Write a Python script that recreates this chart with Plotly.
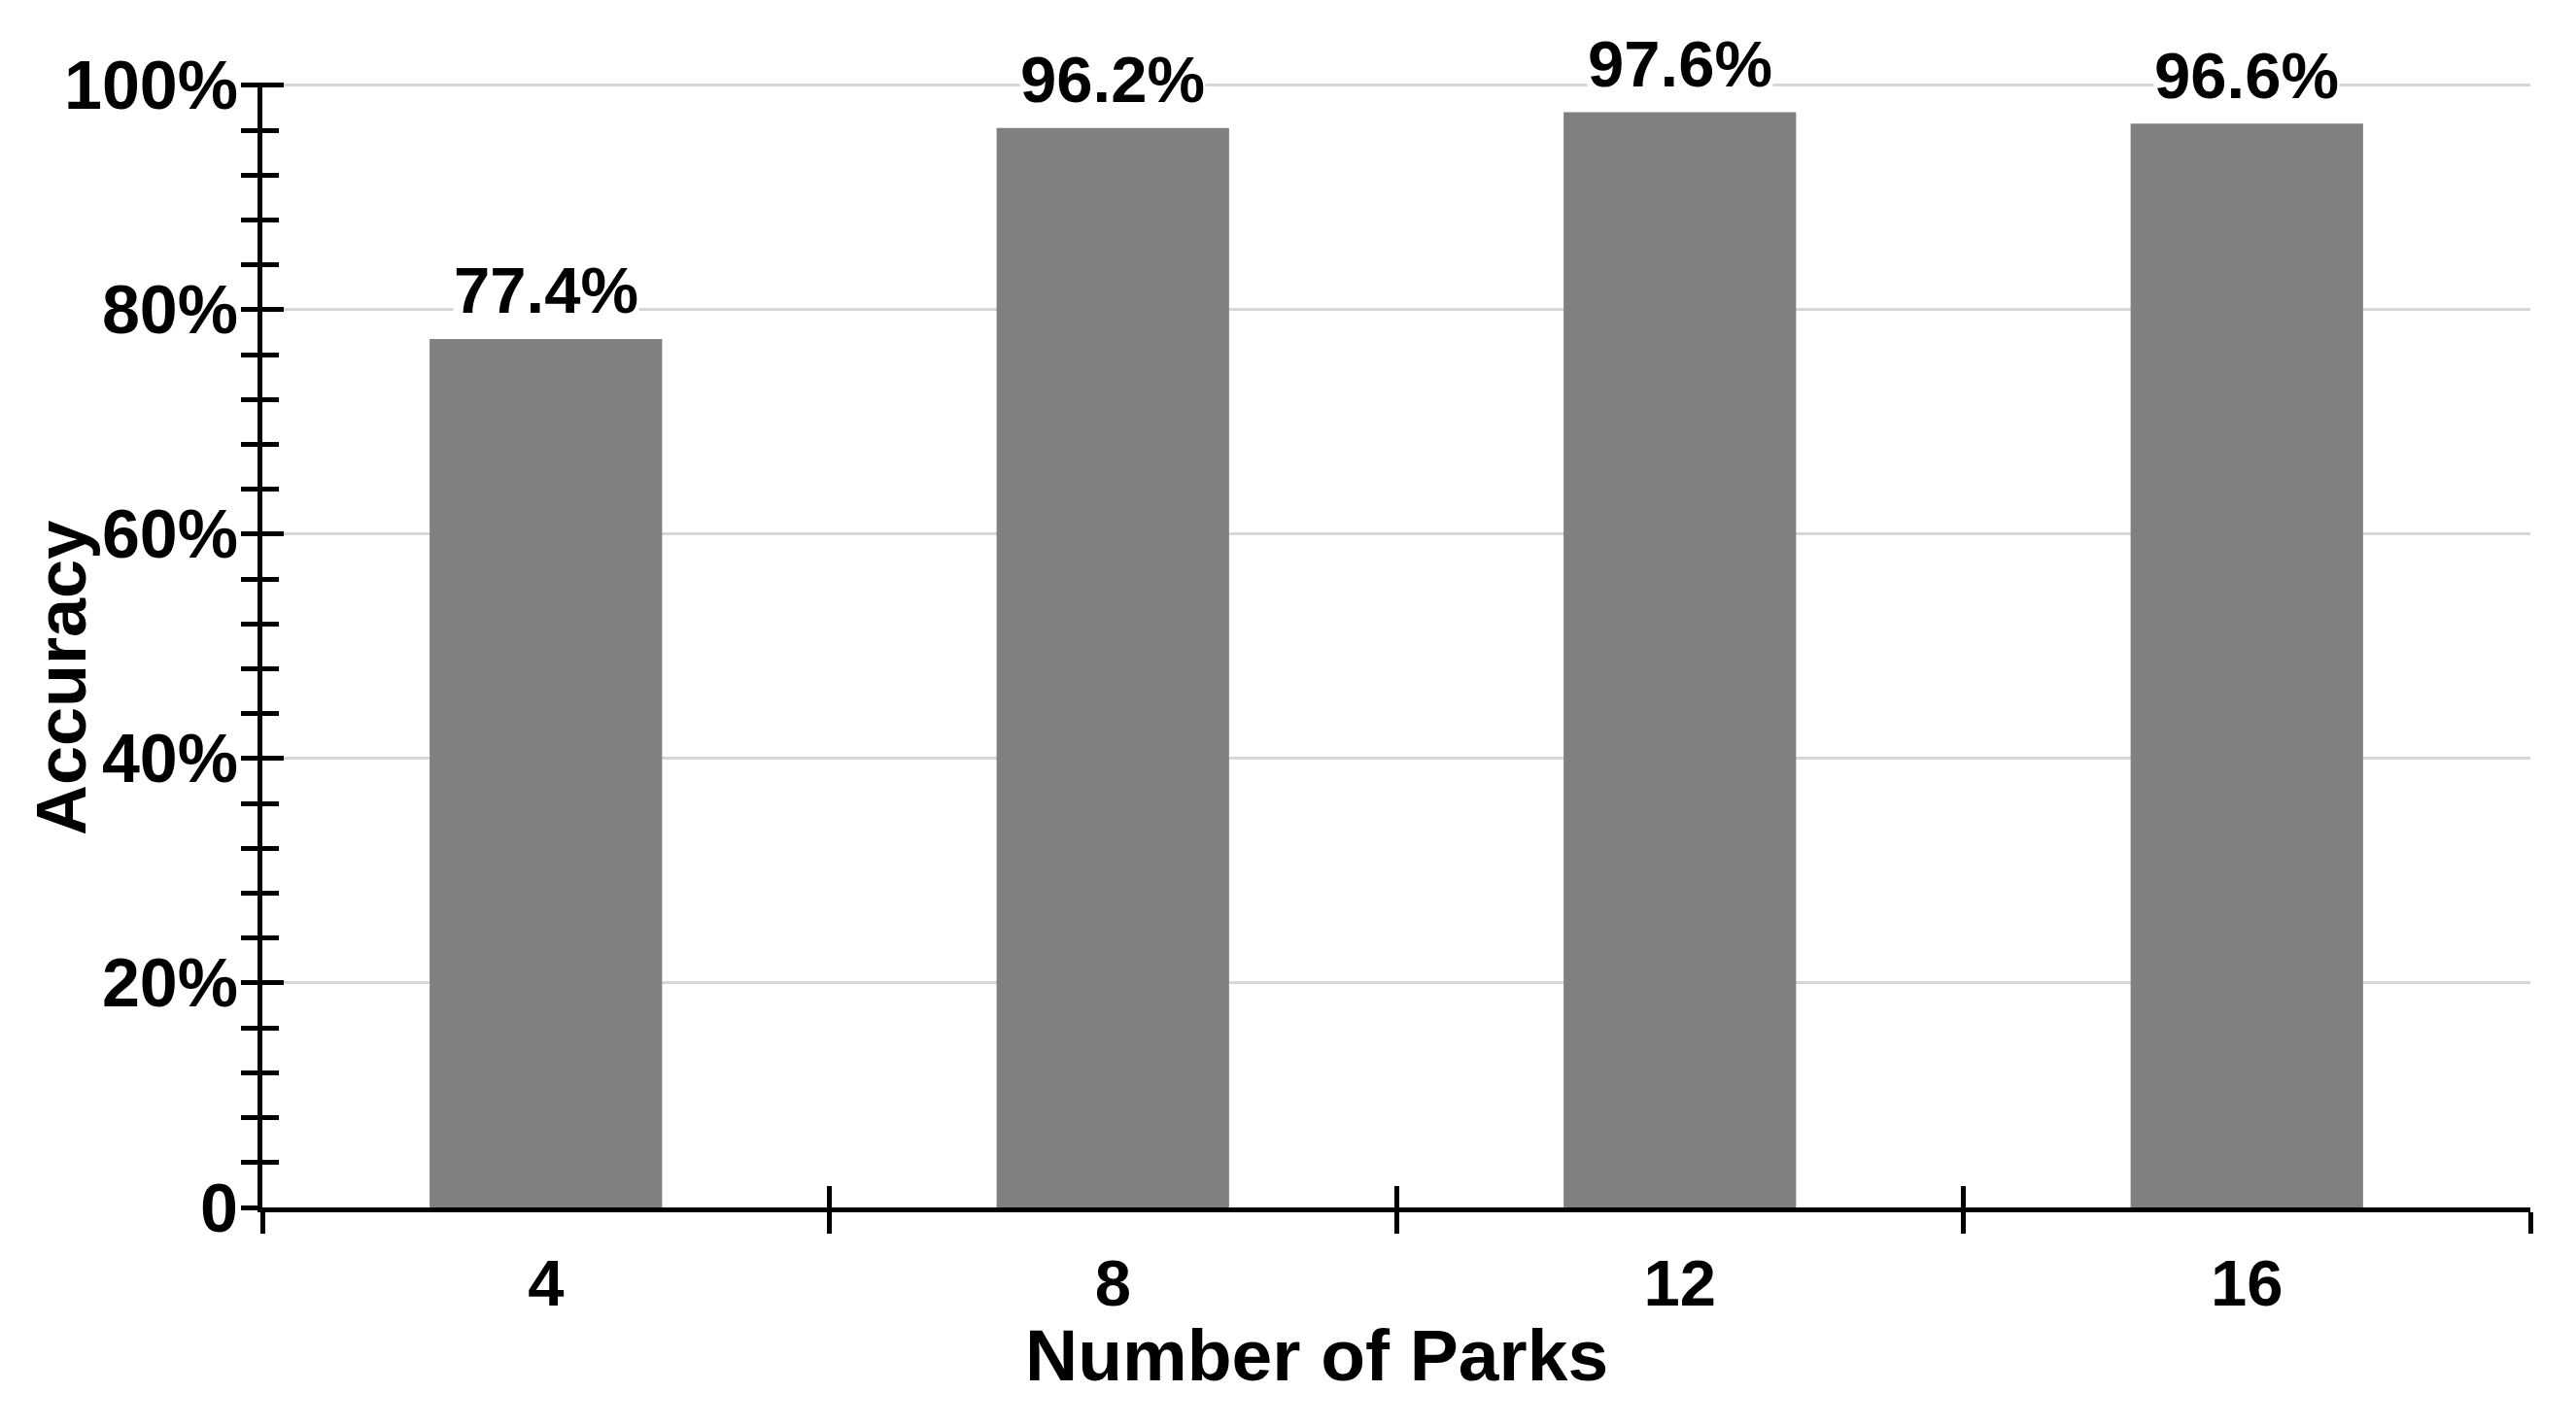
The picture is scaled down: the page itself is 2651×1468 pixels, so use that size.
import plotly.graph_objects as go

categories = ["4", "8", "12", "16"]
accuracy = [77.4, 96.2, 97.6, 96.6]
y_tickvals = [0, 20, 40, 60, 80, 100]
y_ticktext = ["0", "20%", "40%", "60%", "80%", "100%"]
x_title = "Number of Parks"
y_title = "Accuracy"

FONT = "Liberation Sans, Arial, sans-serif"
OFF = 8  # default body margin of the html page
W, H = 2651 - 2 * OFF, 1468 - 2 * OFF
# target plot area in page pixels
PX0, PX1, PY0, PY1 = 270, 2604, 85, 1243
ML, MT = PX0 - OFF, PY0 - OFF
MR, MB = W - (PX1 - OFF), H - (PY1 - OFF)

fig = go.Figure()
fig.add_trace(go.Bar(x=categories, y=accuracy, marker=dict(color="#808080", line=dict(width=0)),
                     width=0.41, xaxis="x", yaxis="y", hoverinfo="skip"))
# invisible trace to give the overlay axes the same categories
fig.add_trace(go.Bar(x=categories, y=accuracy, opacity=0, xaxis="x2", yaxis="y2",
                     width=0.41, hoverinfo="skip", showlegend=False))

for i, v in enumerate(accuracy):
    fig.add_annotation(x=i, y=v, xref="x", yref="y", text=f"{v}%", showarrow=False,
                       yshift=50, yanchor="middle", bgcolor="white", borderpad=0,
                       font=dict(family=FONT, size=67, color="black", weight="bold"))

pw = PX1 - PX0
ph = PY1 - PY0
fig.add_annotation(x=(1355 - PX0) / pw, y=(PY1 - 1395) / ph, xref="paper", yref="paper",
                   text=x_title, showarrow=False, xanchor="center", yanchor="middle",
                   font=dict(family=FONT, size=75, color="black", weight="bold"))
fig.add_annotation(x=(63 - PX0) / pw, y=(PY1 - 698) / ph, xref="paper", yref="paper",
                   text=y_title, showarrow=False, textangle=-90, xanchor="center", yanchor="middle",
                   font=dict(family=FONT, size=72, color="black", weight="bold"))

tickfont = dict(family=FONT, size=67, color="black", weight="bold")
ytickfont = dict(family=FONT, size=70, color="black", weight="bold")
fig.update_layout(
    width=W, height=H,
    margin=dict(l=ML, r=MR, t=MT, b=MB, autoexpand=False),
    paper_bgcolor="white", plot_bgcolor="white",
    showlegend=False,
    barmode="overlay",
    xaxis=dict(type="category", categoryorder="array", categoryarray=categories,
               range=[-0.5, 3.5], tickson="boundaries", ticks="outside", ticklen=22,
               tickwidth=5, tickcolor="black", showline=True, linewidth=5, linecolor="black",
               showgrid=False, zeroline=False, tickfont=tickfont, ticklabelstandoff=16,
               automargin=False),
    yaxis=dict(range=[0, 100.25], tickvals=y_tickvals, ticktext=y_ticktext, ticks="outside",
               ticklen=17, tickwidth=5, tickcolor="black", showline=True, linewidth=5,
               linecolor="black", showgrid=True, gridcolor="#d6d6d6", gridwidth=3,
               zeroline=False, tickfont=ytickfont, ticklabelstandoff=-11, automargin=False,
               minor=dict(tick0=0, dtick=4, ticks="outside", ticklen=17, tickwidth=5,
                          tickcolor="black", showgrid=False)),
    xaxis2=dict(type="category", categoryorder="array", categoryarray=categories,
                range=[-0.5, 3.5], overlaying="x", anchor="y2", side="bottom",
                tickson="boundaries", ticks="inside", ticklen=22, tickwidth=5,
                tickcolor="black", showticklabels=False, showline=False, showgrid=False,
                zeroline=False),
    yaxis2=dict(range=[0, 100.25], overlaying="y", anchor="x2", side="left",
                tickvals=y_tickvals, ticks="inside", ticklen=22, tickwidth=5,
                tickcolor="black", showticklabels=False, showline=False, showgrid=False,
                zeroline=False,
                minor=dict(tick0=0, dtick=4, ticks="inside", ticklen=17, tickwidth=5,
                           tickcolor="black", showgrid=False)),
)

fig.write_html("out.html")
